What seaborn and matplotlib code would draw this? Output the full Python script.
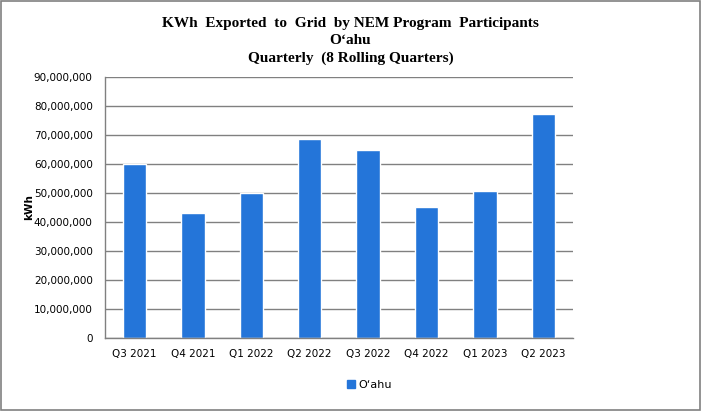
import matplotlib
matplotlib.use("Agg")
import matplotlib.pyplot as plt
import matplotlib.ticker as mticker
from matplotlib.patches import Rectangle
import seaborn as sns
import pandas as pd

quarters = ["Q3 2021", "Q4 2021", "Q1 2022", "Q2 2022", "Q3 2022", "Q4 2022", "Q1 2023", "Q2 2023"]
kwh = [60.0e6, 43.1e6, 49.8e6, 68.6e6, 64.8e6, 45.2e6, 50.7e6, 77.3e6]
series_name = "O‘ahu"

df = pd.DataFrame({"Quarter": quarters, "kWh": kwh, "Series": series_name})

sns.set_theme(style="white")
plt.rcParams["font.family"] = ["DejaVu Sans"]
plt.rcParams["text.color"] = "black"
plt.rcParams["axes.labelcolor"] = "black"

fig = plt.figure(figsize=(7.01, 4.11), dpi=100)
ax = fig.add_axes([0.150, 0.178, 0.667, 0.635])

bar_color = "#2475d9"
sns.barplot(data=df, x="Quarter", y="kWh", hue="Series", palette=[bar_color],
            width=0.4, ax=ax, legend=False, saturation=1)

ax.set_ylim(0, 90e6)
ax.yaxis.set_major_locator(mticker.MultipleLocator(10e6))
ax.yaxis.set_major_formatter(mticker.FuncFormatter(lambda v, p: f"{int(v):,}"))
ax.grid(axis="y", color="#808080", linewidth=1)
ax.set_axisbelow(True)
for s in ["top", "right"]:
    ax.spines[s].set_visible(False)
for s in ["left", "bottom"]:
    ax.spines[s].set_color("#808080")
    ax.spines[s].set_linewidth(1)
ax.tick_params(axis="both", length=0, labelsize=7.5, colors="#000000")
ax.tick_params(axis="y", pad=9)
ax.tick_params(axis="x", pad=8)
ax.set_xlabel("")
ax.set_ylabel("kWh", fontsize=7.5, fontweight="bold", labelpad=0, color="black")

fig.text(0.5, 0.958, "KWh  Exported  to  Grid  by NEM Program  Participants\nO‘ahu\nQuarterly  (8 Rolling Quarters)",
         ha="center", va="top", fontsize=11, fontweight="bold", color="black",
         family=["Liberation Serif", "DejaVu Serif"], linespacing=1.4)

handle = Rectangle((0, 0), 1, 1, color=bar_color)
fig.legend([handle], [series_name], loc="center", bbox_to_anchor=(0.527, 0.063),
           frameon=False, fontsize=8, handlelength=0.7, handleheight=0.7, handletextpad=0.3,
           labelcolor="black")

fig.patches.append(Rectangle((0.001, 0.002), 0.997, 0.996, transform=fig.transFigure,
                             fill=False, edgecolor="#808080", linewidth=1.2))

fig.savefig("out.png", dpi=100)
